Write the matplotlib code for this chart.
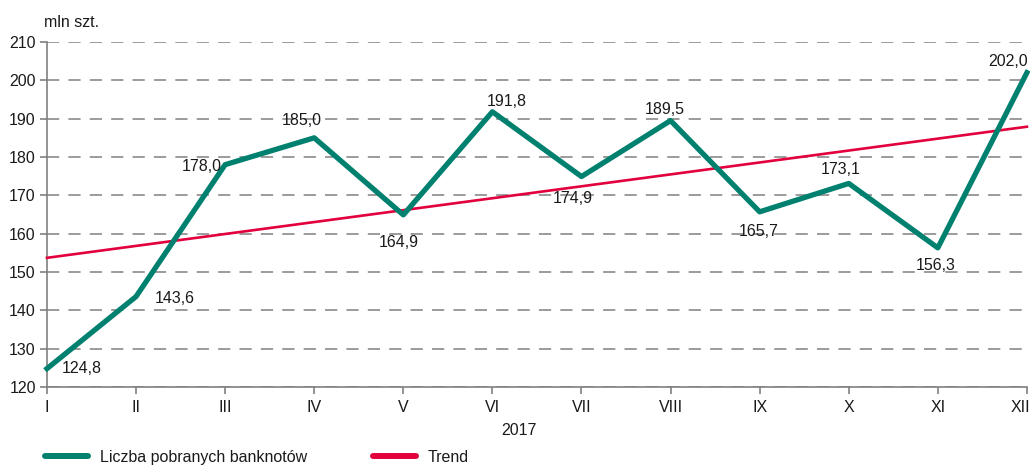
import matplotlib
matplotlib.use("Agg")
import matplotlib.pyplot as plt
import matplotlib.transforms as mtransforms
from matplotlib.lines import Line2D

plt.rcParams['font.family'] = ['Liberation Sans', 'DejaVu Sans']

# months and number of banknotes withdrawn (mln szt.)
months = ["I", "II", "III", "IV", "V", "VI", "VII", "VIII", "IX", "X", "XI", "XII"]
values = [124.8, 143.6, 178.0, 185.0, 164.9, 191.8, 174.9, 189.5, 165.7, 173.1, 156.3, 202.0]
trend_ends = [153.7, 187.9]  # trend at I and at XII

green = "#00806f"
red = "#e2003d"
grey = "#808080"
txt = "#1a1a1a"

fig = plt.figure(figsize=(10.3, 4.65), dpi=100)
ax = fig.add_axes([0.0456, 0.1677, 0.9514, 0.742])

x = list(range(len(months)))
ax.plot([0, len(months) - 1], trend_ends, color=red, lw=1.9, zorder=3, clip_on=False)
ax.plot(x, values, color=green, lw=3.8, zorder=4, clip_on=False)

# label centre offsets from the point, in pixels (right, down)
offsets = [(35, 0), (39, 2), (-23, 2), (-12, -17), (-5, 28), (14, -10),
           (-9, 22), (-6, -11), (-1, 20), (-8, -14), (-2, 18), (-19, -11)]
for i, v in enumerate(values):
    dx, dy = offsets[i]
    ax.annotate(f"{v:.1f}".replace(".", ","), (i, v), xytext=(dx * 0.72, -dy * 0.72),
                textcoords='offset points', ha='center', va='center',
                fontsize=11.5, color=txt, zorder=5, annotation_clip=False)

ax.set_xlim(0, len(months) - 1)
ax.set_ylim(120, 210)
ax.set_yticks(range(120, 211, 10))
ax.set_xticks(x)
ax.set_xticklabels(months)
ax.tick_params(axis='both', colors=grey, labelcolor=txt, labelsize=11.5, length=5, width=1.2)
ax.tick_params(axis='x', pad=4)
ax.tick_params(axis='y', pad=3)

# keep "XII" inside the picture
last = ax.get_xticklabels()[-1]
last.set_transform(last.get_transform() + mtransforms.ScaledTranslation(-6 / 100, 0, fig.dpi_scale_trans))

for s in ['top', 'right']:
    ax.spines[s].set_visible(False)
for s in ['left', 'bottom']:
    ax.spines[s].set_color(grey)
    ax.spines[s].set_linewidth(1.2)

ax.yaxis.grid(True, color=grey, lw=1.1, linestyle=(0, (8, 6)))
ax.set_axisbelow(True)

fig.text(0.0456 - 0.003, 0.935, "mln szt.", fontsize=11.5, color=txt, ha='left', va='bottom')
fig.text(0.504, 0.075, "2017", fontsize=11.5, color=txt, ha='center', va='center')

legend_items = [(green, "Liczba pobranych banknotów", 0.0437),
                (red, "Trend", 0.362)]
for col, label, xpos in legend_items:
    h = Line2D([], [], color=col, lw=4.3, solid_capstyle='round')
    fig.legend([h], [label], loc='center left', bbox_to_anchor=(xpos, 0.0172),
               frameon=False, fontsize=11.5, handlelength=2.7, handletextpad=0.75,
               borderpad=0, borderaxespad=0, labelcolor=txt)

fig.savefig("out.png", dpi=100)
